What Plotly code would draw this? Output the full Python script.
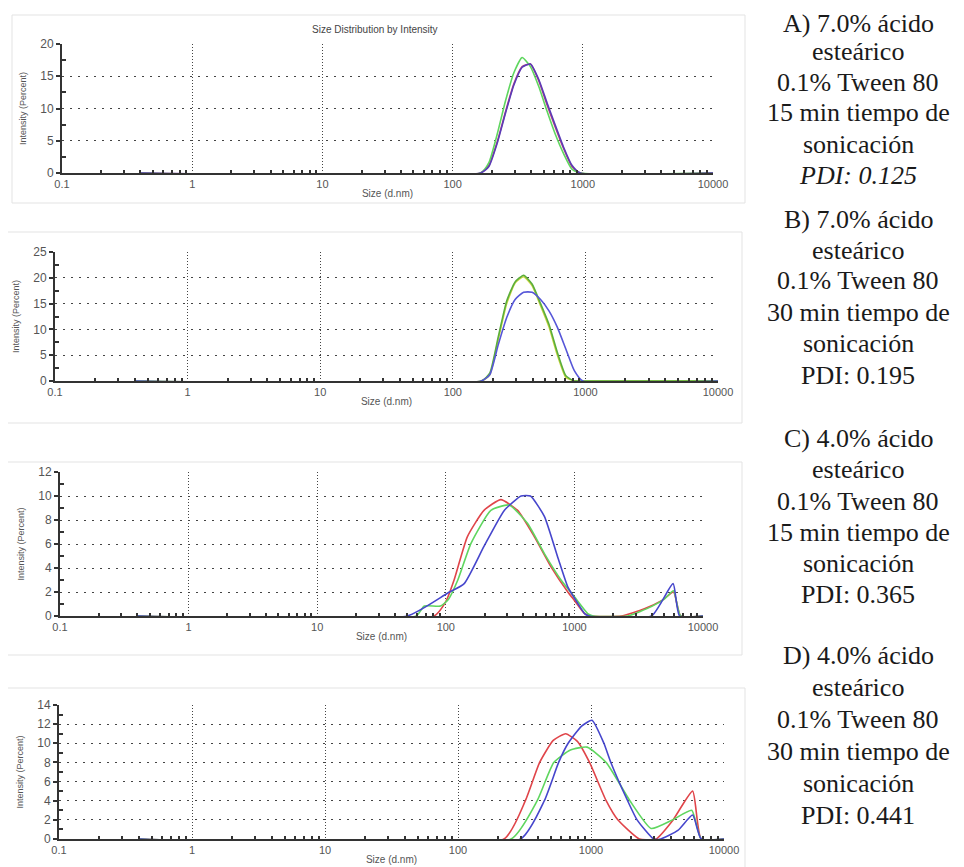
import plotly.graph_objects as go

W, H = 964, 867
OX, OY = 8, 8  # page body margin offset of the plot div

# ---------------- data ----------------
size_ticks = [0.1, 1, 10, 100, 1000, 10000]
size_tick_labels = ["0.1", "1", "10", "100", "1000", "10000"]

# Panel A (7.0% stearic acid, 15 min)
A_size = [0.4, 164, 190, 220, 255, 295, 342, 396, 459, 531, 615, 712, 825, 955, 10000]
A_red = [0, 0, 1.2, 4.8, 9.5, 13.8, 16.5, 16.9, 14.3, 10.6, 7.1, 3.8, 1.0, 0, 0]
A_green = [0, 0, 1.6, 6.0, 11.2, 15.5, 17.9, 16.5, 13.4, 9.6, 6.0, 3.0, 0.6, 0, 0]
A_blue = [0, 0, 1.0, 4.6, 9.3, 13.6, 16.4, 16.9, 14.5, 10.9, 7.4, 4.0, 1.2, 0, 0]

# Panel B (7.0% stearic acid, 30 min)
B_size = [0.4, 164, 190, 220, 255, 295, 342, 396, 459, 531, 615, 712, 825, 955, 10000]
B_red = [0, 0, 1.2, 8.0, 15.0, 19.0, 20.2, 18.5, 14.6, 10.5, 5.0, 0.7, 0, 0, 0]
B_green = [0, 0, 1.5, 8.5, 15.5, 19.2, 20.5, 18.8, 15.0, 11.0, 5.5, 1.0, 0, 0, 0]
B_blue = [0, 0, 1.2, 7.0, 12.3, 15.8, 17.2, 17.2, 15.8, 13.6, 10.4, 6.2, 2.0, 0, 0]

# Panel C (4.0% stearic acid, 15 min)
C_red_size = [0.4, 81, 100, 116, 147, 198, 268, 362, 489, 658, 889, 1000, 1200, 1350, 2310, 3500, 4800, 5900, 6700, 10000]
C_red = [0, 0, 1.2, 3.0, 6.6, 8.8, 9.7, 8.8, 6.6, 4.1, 2.0, 1.3, 0.2, 0, 0, 0.6, 1.3, 2.0, 0, 0]
C_green_size = [0.4, 58.8, 68, 91, 105, 124, 157, 224, 311, 433, 584, 787, 1000, 1270, 1400, 2600, 4000, 5000, 5900, 6700, 10000]
C_green = [0, 0, 0.83, 0.83, 1.4, 3.0, 6.05, 8.8, 9.25, 7.7, 5.2, 3.0, 1.6, 0.2, 0, 0, 0.8, 1.4, 2.1, 0, 0]
C_blue_size = [0.4, 50, 103, 139, 198, 285, 385, 455, 584, 742, 890, 1000, 1200, 1300, 3980, 5850, 6580, 10000]
C_blue = [0, 0, 1.9, 2.7, 5.8, 8.8, 10.0, 10.0, 8.3, 4.9, 2.4, 1.5, 0.2, 0, 0, 2.7, 0, 0]

# Panel D (4.0% stearic acid, 30 min)
D_red_size = [0.4, 222, 321, 411, 520, 645, 790, 975, 1300, 1590, 2310, 3090, 4100, 5810, 6740, 10000]
D_red = [0, 0, 4.0, 8.0, 10.3, 11.0, 10.2, 8.0, 4.0, 2.0, 0, 0, 1.9, 5.0, 0, 0]
D_green_size = [0.4, 251, 394, 525, 700, 935, 1300, 1960, 2830, 4100, 5720, 6740, 10000]
D_green = [0, 0, 4.0, 8.0, 9.3, 9.6, 8.0, 4.0, 1.1, 2.0, 3.0, 0, 0]
D_blue_size = [0.4, 296, 446, 571, 673, 850, 1017, 1250, 1410, 1885, 2220, 2960, 3340, 4500, 5810, 6740, 10000]
D_blue = [0, 0, 4.0, 8.0, 10.0, 11.8, 12.4, 10.0, 8.0, 4.0, 2.0, 0, 0, 0.9, 2.5, 0, 0]

# Captions on the right
captions = [
    ["A) 7.0% ácido", "esteárico", "0.1% Tween 80", "15 min tiempo de", "sonicación", "<i>PDI: 0.125</i>"],
    ["B) 7.0% ácido", "esteárico", "0.1% Tween 80", "30 min tiempo de", "sonicación", "PDI: 0.195"],
    ["C) 4.0% ácido", "esteárico", "0.1% Tween 80", "15 min tiempo de", "sonicación", "PDI: 0.365"],
    ["D) 4.0% ácido", "esteárico", "0.1% Tween 80", "30 min tiempo de", "sonicación", "PDI: 0.441"],
]

# ---------------- layout ----------------
RED = "#e0454a"
GREEN = "#5fd65f"
BLUE = "#4646cc"


def px_x(v):
    return (v - OX) / W


def px_y(v):
    return 1 - (v - OY) / H


panels = [
    dict(box=(62, 713, 44, 173), ymax=20, ydt=5, frame=(12, 745, 15, 203),
         series=[(A_size, A_red, "#c0407a"), (A_size, A_green, GREEN), (A_size, A_blue, "#5a3cb8")]),
    dict(box=(55, 718, 252, 381), ymax=25, ydt=5, frame=(5, 742, 232, 423),
         series=[(B_size, B_red, "#c9d640"), (B_size, B_green, "#5aae3c"), (B_size, B_blue, "#5656d8")]),
    dict(box=(60, 703, 472, 616), ymax=12, ydt=2, frame=(7, 742, 462, 655),
         series=[(C_red_size, C_red, RED), (C_green_size, C_green, GREEN), (C_blue_size, C_blue, BLUE)]),
    dict(box=(59, 724, 705, 839), ymax=14, ydt=2, frame=(7, 745, 688, 875),
         series=[(D_red_size, D_red, RED), (D_green_size, D_green, GREEN), (D_blue_size, D_blue, BLUE)]),
]

minor_x = [m * 10 ** e for e in range(-1, 4) for m in range(2, 10)]

fig = go.Figure()
shapes = []
for i, p in enumerate(panels):
    n = "" if i == 0 else str(i + 1)
    l, r, t, b = p["box"]
    xd = [px_x(l), px_x(r)]
    yd = [px_y(b), px_y(t)]
    for xs, ys, col in p["series"]:
        fig.add_trace(go.Scatter(x=xs, y=ys, mode="lines", xaxis="x" + n, yaxis="y" + n,
                                 line=dict(color=col, width=1.6, shape="spline", smoothing=0.5),
                                 showlegend=False, hoverinfo="skip"))
    ymax, ydt = p["ymax"], p["ydt"]
    yt = list(range(0, ymax + 1, ydt))
    ymin = [v + ydt / 2 for v in yt[:-1]]
    fig.layout["xaxis" + n] = dict(
        type="log", range=[-1, 4], domain=xd, anchor="y" + n,
        tickmode="array", tickvals=size_ticks, ticktext=size_tick_labels,
        ticks="", showline=True, linecolor="#333", linewidth=2,
        showgrid=True, gridcolor="#444", griddash="1px,2px", gridwidth=1,
        minor=dict(tickvals=minor_x, ticks="inside", ticklen=3, tickcolor="#333", tickwidth=2, showgrid=False),
        tickfont=dict(family="Liberation Sans", size=11, color="#555"),
        title=dict(text="Size (d.nm)", font=dict(family="Liberation Sans", size=10, color="#555"), standoff=1),
        zeroline=False, automargin=False, fixedrange=True,
    )
    fig.layout["yaxis" + n] = dict(
        range=[0, ymax], domain=yd, anchor="x" + n,
        tickmode="array", tickvals=yt, ticks="outside", ticklen=4, tickcolor="#333", tickwidth=2,
        showline=True, linecolor="#333", linewidth=2,
        showgrid=True, gridcolor="#444", griddash="2px,6px", gridwidth=1,
        minor=dict(tickvals=ymin, ticks="inside", ticklen=4, tickcolor="#333", tickwidth=2, showgrid=False),
        tickfont=dict(family="Liberation Sans", size=12, color="#555"),
        title=dict(text="Intensity (Percent)", font=dict(family="Liberation Sans", size=9, color="#555"), standoff=12),
        zeroline=False, automargin=False, fixedrange=True,
    )
    fl, fr, ft, fb = p["frame"]
    shapes.append(dict(type="rect", xref="paper", yref="paper", x0=px_x(fl), x1=px_x(fr),
                       y0=px_y(fb), y1=px_y(ft), line=dict(color="#e3e3e3", width=1), layer="below"))

annotations = [dict(text="Size Distribution by Intensity", x=px_x(375), y=px_y(22), xref="paper", yref="paper",
                    showarrow=False, font=dict(family="Liberation Sans", size=10, color="#444"))]

caption_rows = [
    [23, 52, 82, 113, 144, 175],
    [219, 250, 281, 312, 343, 375],
    [439, 470, 501, 532, 563, 594],
    [655, 687, 719, 751, 783, 815],
]
for block, rows in zip(captions, caption_rows):
    for txt, yy in zip(block, rows):
        annotations.append(dict(text=txt, x=px_x(858), y=px_y(yy), xref="paper", yref="paper",
                                showarrow=False, xanchor="center", yanchor="middle",
                                font=dict(family="Liberation Serif", size=26, color="#1a1a1a")))

fig.update_layout(width=W, height=H, margin=dict(l=0, r=0, t=0, b=0),
                  paper_bgcolor="white", plot_bgcolor="white",
                  shapes=shapes, annotations=annotations, showlegend=False)

fig.write_html("out.html")
